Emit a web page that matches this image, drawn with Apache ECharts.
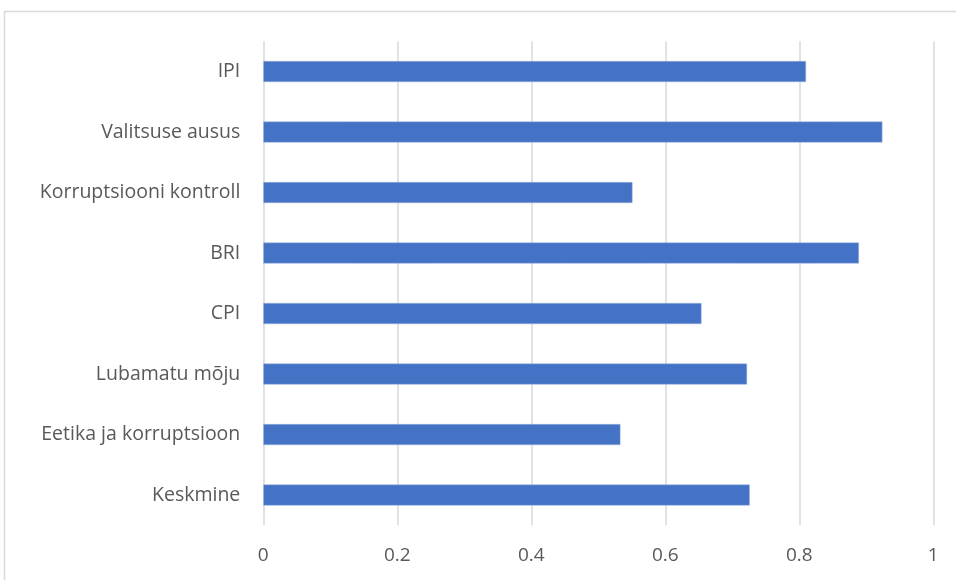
<!DOCTYPE html>
<html><head><meta charset="utf-8">
<script src="https://cdn.jsdelivr.net/npm/echarts@6/dist/echarts.min.js"></script>
<style>html,body{margin:0;padding:0;background:#fff}#c{width:956px;height:580px}</style>
</head><body><div id="c"></div>
<script>
const categories = ["Keskmine","Eetika ja korruptsioon","Lubamatu mõju","CPI","BRI","Korruptsiooni kontroll","Valitsuse ausus","IPI"];
const values = [0.726,0.533,0.722,0.654,0.889,0.551,0.924,0.810];
const xTicks = [0,0.2,0.4,0.6,0.8,1];

const chart = echarts.init(document.getElementById('c'), null, {renderer:'canvas'});
chart.setOption({
  animation:false,
  backgroundColor:'#fff',
  graphic:[{type:'rect',shape:{x:4.5,y:11.5,width:1000,height:600},style:{fill:'none',stroke:'#d9d9d9',lineWidth:1.5},silent:true}],
  grid:{left:263.3,top:41.3,width:670,height:484},
  xAxis:{type:'value',min:0,max:1,interval:0.2,
    axisLine:{show:false},axisTick:{show:false},
    splitLine:{lineStyle:{color:'#d9d9d9',width:1.5}},
    axisLabel:{color:'#595959',fontSize:19,fontFamily:'Open Sans',margin:21,
      formatter:v=>{const i=xTicks.findIndex(t=>Math.abs(t-v)<1e-9);return i>=0?String(xTicks[i]):'';}}},
  yAxis:{type:'category',data:categories,
    axisLine:{show:false},axisTick:{show:false},
    axisLabel:{color:'#595959',fontSize:19.5,fontFamily:'Open Sans',margin:23}},
  series:[{type:'bar',data:values,barWidth:21,
    itemStyle:{color:'#4472c4',borderColor:'#9db5e0',borderWidth:0.5}}]
});
</script></body></html>
